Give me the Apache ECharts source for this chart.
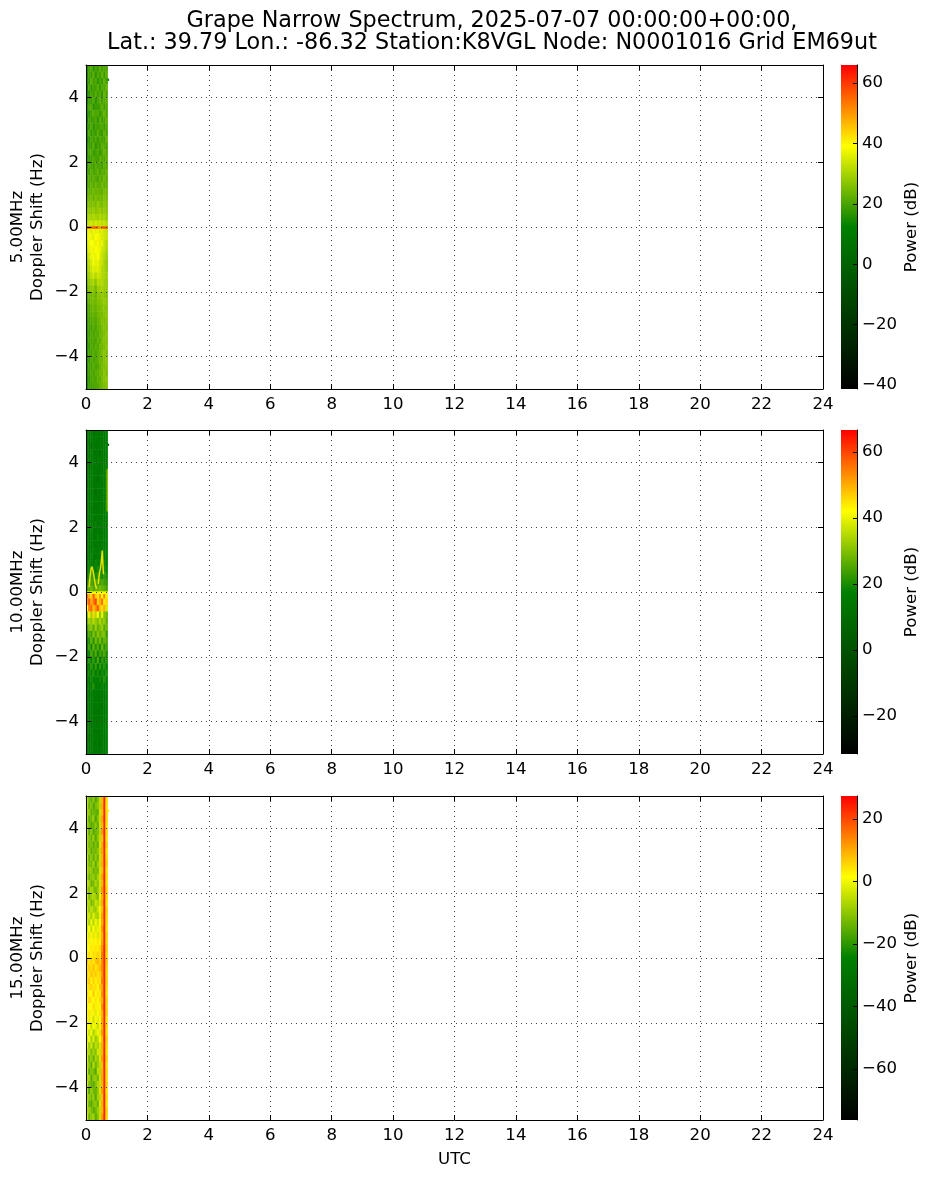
<!DOCTYPE html>
<html><head><meta charset="utf-8">
<script src="https://cdn.jsdelivr.net/npm/echarts@6/dist/echarts.min.js"></script>
<style>html,body{margin:0;padding:0;background:#fff}#c{width:932px;height:1178px}</style>
</head><body><div id="c"></div>
<script>
const titleText = 'Grape Narrow Spectrum, 2025-07-07 00:00:00+00:00,\nLat.: 39.79 Lon.: -86.32 Station:K8VGL Node: N0001016 Grid EM69ut';
const xTicks = [0,2,4,6,8,10,12,14,16,18,20,22,24];
const yTicks = [-4,-2,0,2,4];
const bands = ['5.00MHz','10.00MHz','15.00MHz'];
const cbarRanges = [[-41.3,66],[-31.5,66.7],[-76.3,27.4]];
const cbarTicks = [[-40,-20,0,20,40,60],[-20,0,20,40,60],[-60,-40,-20,0,20]];
const colormap = ['#000000','#004000','#008000','#ffff00','#ff0000'];
const colStart = 0, colWidth = 0.07, rowTop = 5, rowHeight = 0.2;

// Power (dB), rows from +5 Hz down to -5 Hz, columns from 0 to 0.7 h UTC
const power5 = [
[15,19,21,17,20,18,22,19,21,20],[14,20,18,22,17,21,19,23,18,22],[16,18,22,19,21,17,20,18,22,19],[13,21,17,20,19,22,18,21,20,23],
[15,17,20,18,22,19,21,17,23,20],[14,19,18,21,17,20,22,19,21,22],[16,20,21,17,19,18,20,22,19,21],[15,17,19,22,20,21,18,20,23,20],
[13,20,18,19,21,17,22,19,20,22],[16,18,21,17,20,19,20,21,18,21],[15,21,17,20,18,22,19,18,22,20],[14,18,20,19,21,18,21,20,19,23],
[16,19,18,22,17,20,19,22,21,20],[15,20,21,18,19,21,18,20,23,21],[17,18,19,21,20,19,22,21,20,22],[16,21,20,19,22,20,21,19,22,21],
[18,19,22,20,21,23,20,22,21,23],[17,22,20,23,21,20,23,21,24,22],[19,21,23,21,24,22,22,24,22,23],[20,23,22,25,23,24,23,22,25,24],
[22,24,25,23,26,24,25,24,26,25],[24,26,25,27,25,28,26,25,27,26],[26,28,27,29,27,28,29,27,28,27],[28,30,29,31,30,29,31,29,30,28],
[31,33,34,32,35,33,34,32,33,31],[35,37,35,38,36,37,35,36,34,32],[35,38,37,36,39,38,37,35,34,33],[34,37,39,38,37,40,36,37,33,31],
[32,36,38,37,39,38,37,34,33,30],[30,34,37,38,37,39,36,33,31,29],[28,32,35,38,36,37,34,33,30,28],[27,31,34,36,35,36,34,31,30,28],
[26,29,32,34,31,34,33,31,30,29],[24,28,29,31,27,32,31,31,29,28],[22,26,27,28,24,29,29,30,28,28],[21,24,24,26,23,27,27,28,27,26],
[20,23,24,25,24,26,26,27,28,27],[19,21,23,24,23,25,25,26,27,26],[18,21,22,23,22,24,25,25,26,27],[17,20,21,22,21,23,24,26,25,26],
[16,20,19,22,20,23,23,25,26,25],[17,19,21,20,22,21,24,24,25,27],[15,20,20,21,20,23,22,25,26,26],[16,18,21,20,22,21,24,24,25,27],
[15,20,19,22,20,22,23,25,27,25],[17,18,21,20,21,22,24,24,26,27],[15,20,19,22,20,21,23,25,25,26],[16,19,21,20,22,22,24,24,27,25],
[15,18,20,21,20,23,22,25,26,27],[14,19,19,20,21,21,23,24,25,26]];

const power10 = [
[14,15,15,12,15,16,14,15,15,16],[15,14,15,15,16,14,15,15,14,16],[15,15,10,15,14,15,16,14,15,17],[14,15,16,14,15,15,12,15,15,16],
[15,14,15,15,14,16,15,15,14,17],[15,11,15,14,16,15,14,15,16,16],[14,15,14,16,15,14,15,14,15,16],[15,15,16,14,15,12,15,16,15,17],
[14,16,14,15,15,15,16,14,15,17],[15,14,15,15,11,16,14,15,16,16],[15,15,15,16,14,15,15,15,14,16],[14,15,16,14,15,15,15,14,15,17],
[15,16,14,15,15,14,16,15,15,17],[15,14,15,16,14,16,15,14,16,16],[16,15,15,14,18,15,15,16,15,16],[14,15,18,15,15,16,14,15,15,17],
[15,14,16,15,15,18,16,15,17,16],[15,17,15,16,14,15,15,16,15,16],[16,15,15,18,16,15,17,15,18,17],[14,15,18,15,15,17,15,18,16,17],
[15,18,16,15,19,16,18,16,19,17],[15,18,20,19,17,20,17,19,20,18],[17,20,23,21,20,22,21,20,22,20],[20,22,25,23,24,26,24,25,23,22],
[23,26,28,25,28,27,29,27,26,24],[56,50,46,58,48,44,52,42,54,40],[52,58,50,55,60,46,50,56,44,46],[42,54,57,48,52,58,48,46,50,38],
[30,44,33,46,35,42,31,40,30,28],[27,33,31,35,32,30,34,30,32,27],[23,29,31,26,33,27,30,32,26,28],[20,26,23,30,25,31,27,29,30,23],
[18,21,27,21,29,24,29,23,27,25],[16,24,19,27,21,26,20,28,21,24],[15,18,25,20,26,19,24,21,25,20],[16,21,17,23,18,25,17,22,19,21],
[14,16,22,17,23,16,22,18,21,18],[15,19,15,21,16,20,15,19,17,20],[15,15,19,16,18,16,19,16,21,17],[14,16,16,21,15,17,16,18,16,17],
[15,14,16,15,16,15,16,15,16,17],[14,15,15,16,14,15,14,15,15,16],[15,16,14,15,15,16,15,11,15,17],[12,15,15,14,15,14,15,15,14,16],
[15,14,15,15,15,15,15,16,15,17],[14,15,11,15,16,14,16,14,15,17],[15,15,15,14,15,15,14,15,16,17],[15,12,14,16,15,15,15,15,14,17],
[14,15,15,15,14,15,12,15,15,16],[15,14,15,14,15,14,15,14,15,17]];

const power15 = [
[-6,-12,-15,-10,-16,-12,-5,9,18,5],[-5,-14,-11,-16,-12,-10,-6,10,20,4],[-7,-10,-15,-13,-14,-15,-4,8,19,5],[-6,-15,-13,-9,-17,-11,-5,11,21,5],
[-8,-12,-16,-14,-10,-15,-4,9,18,4],[-5,-15,-10,-16,-13,-12,-6,12,20,5],[-7,-11,-14,-9,-16,-10,-5,8,19,4],[-6,-13,-12,-15,-11,-15,-3,10,21,6],
[-8,-10,-15,-12,-13,-10,-5,11,18,4],[-4,-14,-10,-15,-9,-14,-4,9,20,5],[-6,-12,-13,-8,-15,-9,-5,10,19,6],[-5,-10,-9,-14,-11,-13,-3,8,18,4],
[-7,-13,-11,-9,-13,-8,-4,11,21,5],[-4,-8,-14,-12,-7,-11,-3,9,19,4],[-6,-11,-7,-10,-13,-9,-4,12,20,6],[-3,-12,-9,-6,-8,-12,-1,9,18,5],
[-6,-7,-12,-10,-4,-7,-3,10,21,4],[-3,-9,-5,-8,-9,-4,0,8,19,6],[-4,-4,-8,-2,-6,-8,-1,11,20,5],[-2,-7,-1,-6,0,-4,2,10,18,5],
[-3,1,-5,2,-3,-1,3,12,21,4],[1,-2,3,-2,3,-3,4,9,20,6],[0,3,0,3,2,4,2,11,19,5],[2,2,4,3,4,3,5,13,22,6],
[3,5,3,5,4,6,4,15,21,5],[8,4,6,4,7,9,6,13,22,7],[4,7,5,8,4,6,8,14,20,6],[6,4,8,5,7,4,6,12,22,5],
[4,7,3,6,3,5,4,15,19,6],[3,5,6,4,5,2,7,11,21,5],[5,3,2,7,1,4,3,13,20,4],[2,6,4,1,4,1,5,10,19,6],
[3,1,2,5,0,3,2,13,22,5],[1,4,0,3,-2,2,4,9,20,6],[3,-1,3,-4,2,-2,1,11,18,4],[0,2,-5,1,-1,-4,3,9,21,5],
[1,-4,0,-7,-3,0,-2,12,19,4],[-3,0,-8,-2,-9,-5,1,8,21,6],[0,-9,-4,-11,-5,-8,-3,10,18,5],[-4,-7,-12,-8,-11,-3,-4,9,20,4],
[-2,-13,-9,-14,-7,-10,-3,12,19,6],[-5,-10,-15,-6,-13,-9,-5,8,21,4],[-3,-15,-11,-12,-16,-5,-6,10,19,5],[-6,-8,-16,-10,-9,-13,-4,11,18,5],
[-3,-12,-14,-15,-11,-7,-5,9,20,6],[-5,-16,-9,-13,-14,-10,-3,12,18,4],[-7,-10,-13,-9,-16,-8,-6,8,21,5],[-4,-14,-16,-11,-10,-14,-3,10,20,4],
[-6,-9,-12,-15,-13,-9,-5,9,19,6],[-3,-13,-10,-8,-15,-11,-4,12,21,5]];

// Thin marks: [x0, x1, y0, y1, dB]
const thin5 = [[0,0.7,0.02,-0.04,58],[0.12,0.2,0.02,-0.04,50],[0.4,0.48,0.02,-0.04,48],[0.7,0.74,4.58,4.52,12]];
const thin10 = [[0,0.7,0.02,-0.05,42],[0.7,0.74,4.58,4.52,8],[0.67,0.7,3.8,2.5,32]];
const thin15 = [[0.58,0.61,5,-5,24],[0.7,0.74,4.58,4.52,2]];
const trace10 = [[0.1,0.15],[0.13,0.45],[0.16,0.7],[0.19,0.78],[0.23,0.65],[0.27,0.42],[0.31,0.2],[0.35,0.1],null,[0.4,0.25],[0.44,0.6],[0.47,0.72],[0.5,0.95],[0.53,1.28],[0.55,0.85],[0.57,0.55]];

const powers = [power5,power10,power15];
const thins = [thin5,thin10,thin15];
const tops = [65,430,796], H = 324, L = 86, W = 737, CL = 841, CW = 16;
const fam = '"DejaVu Sans"', fs = 16.6, black = '#000';
const mFmt = v => String(v).replace('-','\u2212');

function cells(m, extra){
  const out = [];
  m.forEach((row,r)=>row.forEach((v,c)=>out.push([colStart+c*colWidth,colStart+(c+1)*colWidth,rowTop-r*rowHeight,rowTop-(r+1)*rowHeight,v])));
  return out.concat(extra);
}
function renderCell(params, api){
  const a = api.coord([api.value(0),api.value(2)]), b = api.coord([api.value(1),api.value(3)]);
  return {type:'rect',shape:{x:a[0],y:a[1],width:b[0]-a[0]+0.4,height:b[1]-a[1]+0.4},style:{fill:api.visual('color')}};
}
const grid=[],xAxis=[],yAxis=[],series=[],visualMap=[];
const frameLine = {show:true,onZero:false,lineStyle:{color:black,width:1}};
const splitDot = {show:true,lineStyle:{color:'#444',width:1,type:[1,4]}};
tops.forEach((t,i)=>{
  const g = i*2;
  grid.push({left:L,top:t,width:W,height:H,containLabel:false,outerBoundsMode:'none'});
  grid.push({left:CL,top:t,width:CW,height:H,containLabel:false,outerBoundsMode:'none'});
  const xi = xAxis.length;
  xAxis.push({type:'value',gridIndex:g,min:0,max:24,interval:2,position:'bottom',axisLine:frameLine,
    axisTick:{show:true,inside:true,length:5,lineStyle:{color:black}},
    axisLabel:{show:true,color:black,fontFamily:fam,fontSize:fs,margin:7,hideOverlap:false},splitLine:splitDot,z:5,
    name:i===2?'UTC':'',nameLocation:'middle',nameGap:31,nameTextStyle:{color:black,fontFamily:fam,fontSize:fs}});
  xAxis.push({type:'value',gridIndex:g,min:0,max:24,interval:2,position:'top',axisLine:frameLine,
    axisTick:{show:true,inside:true,length:5,lineStyle:{color:black}},axisLabel:{show:false},splitLine:{show:false},z:5});
  xAxis.push({type:'value',gridIndex:g+1,min:0,max:1,show:false});
  const yi = yAxis.length;
  yAxis.push({type:'value',gridIndex:g,min:-5,max:5,interval:1,position:'left',axisLine:frameLine,
    axisTick:{show:true,inside:true,length:5,customValues:yTicks,lineStyle:{color:black}},
    axisLabel:{show:true,color:black,fontFamily:fam,fontSize:fs,margin:7,customValues:yTicks,formatter:mFmt},
    splitLine:splitDot,z:5,name:bands[i]+'\nDoppler Shift (Hz)',nameLocation:'middle',nameGap:38,nameRotate:90,nameMoveOverlap:false,
    nameTextStyle:{color:black,fontFamily:fam,fontSize:fs,lineHeight:20}});
  yAxis.push({type:'value',gridIndex:g,min:-5,max:5,interval:1,position:'right',axisLine:frameLine,
    axisTick:{show:true,inside:true,length:5,customValues:yTicks,lineStyle:{color:black}},axisLabel:{show:false},splitLine:{show:false},z:5});
  const [vmin,vmax] = cbarRanges[i];
  yAxis.push({type:'value',gridIndex:g+1,min:vmin,max:vmax,position:'right',axisLine:frameLine,
    axisTick:{show:true,inside:true,length:4,customValues:cbarTicks[i],lineStyle:{color:black}},
    axisLabel:{show:true,color:black,fontFamily:fam,fontSize:fs,margin:5,customValues:cbarTicks[i],formatter:mFmt},
    splitLine:{show:false},z:5,name:'Power (dB)',nameLocation:'middle',nameGap:46,nameRotate:90,
    nameTextStyle:{color:black,fontFamily:fam,fontSize:fs}});
  const si = series.length;
  series.push({type:'custom',xAxisIndex:xi,yAxisIndex:yi,data:cells(powers[i],thins[i]),renderItem:renderCell,
    encode:{x:[0,1],y:[2,3]},silent:true,animation:false,clip:true,z:2});
  visualMap.push({type:'continuous',show:false,seriesIndex:si,dimension:4,min:vmin,max:vmax,inRange:{color:colormap}});
  if(i===1){
    series.push({type:'line',xAxisIndex:xi,yAxisIndex:yi,data:trace10,showSymbol:false,connectNulls:false,silent:true,animation:false,
      lineStyle:{color:'#e8e000',width:1.5},z:3});
  }
  series.push({type:'custom',xAxisIndex:xi+2,yAxisIndex:yi+2,data:[[0,1,vmin,vmax]],silent:true,animation:false,z:2,
    encode:{x:[0,1],y:[2,3]},
    renderItem:(p,api)=>{
      const a=api.coord([0,vmax]),b=api.coord([1,vmin]);
      const stops=colormap.slice().reverse().map((c,k)=>({offset:k/(colormap.length-1),color:c}));
      return {type:'rect',shape:{x:a[0],y:a[1],width:b[0]-a[0],height:b[1]-a[1]},
        style:{fill:new echarts.graphic.LinearGradient(0,0,0,1,stops)}};
    }});
});
const chart = echarts.init(document.getElementById('c'),null,{renderer:'canvas'});
chart.setOption({animation:false,backgroundColor:'#fff',
  title:{text:titleText,left:487,top:5,textAlign:'center',textStyle:{color:black,fontFamily:fam,fontSize:22.3,fontWeight:'normal',lineHeight:22}},
  grid,xAxis,yAxis,visualMap,series});
</script></body></html>
